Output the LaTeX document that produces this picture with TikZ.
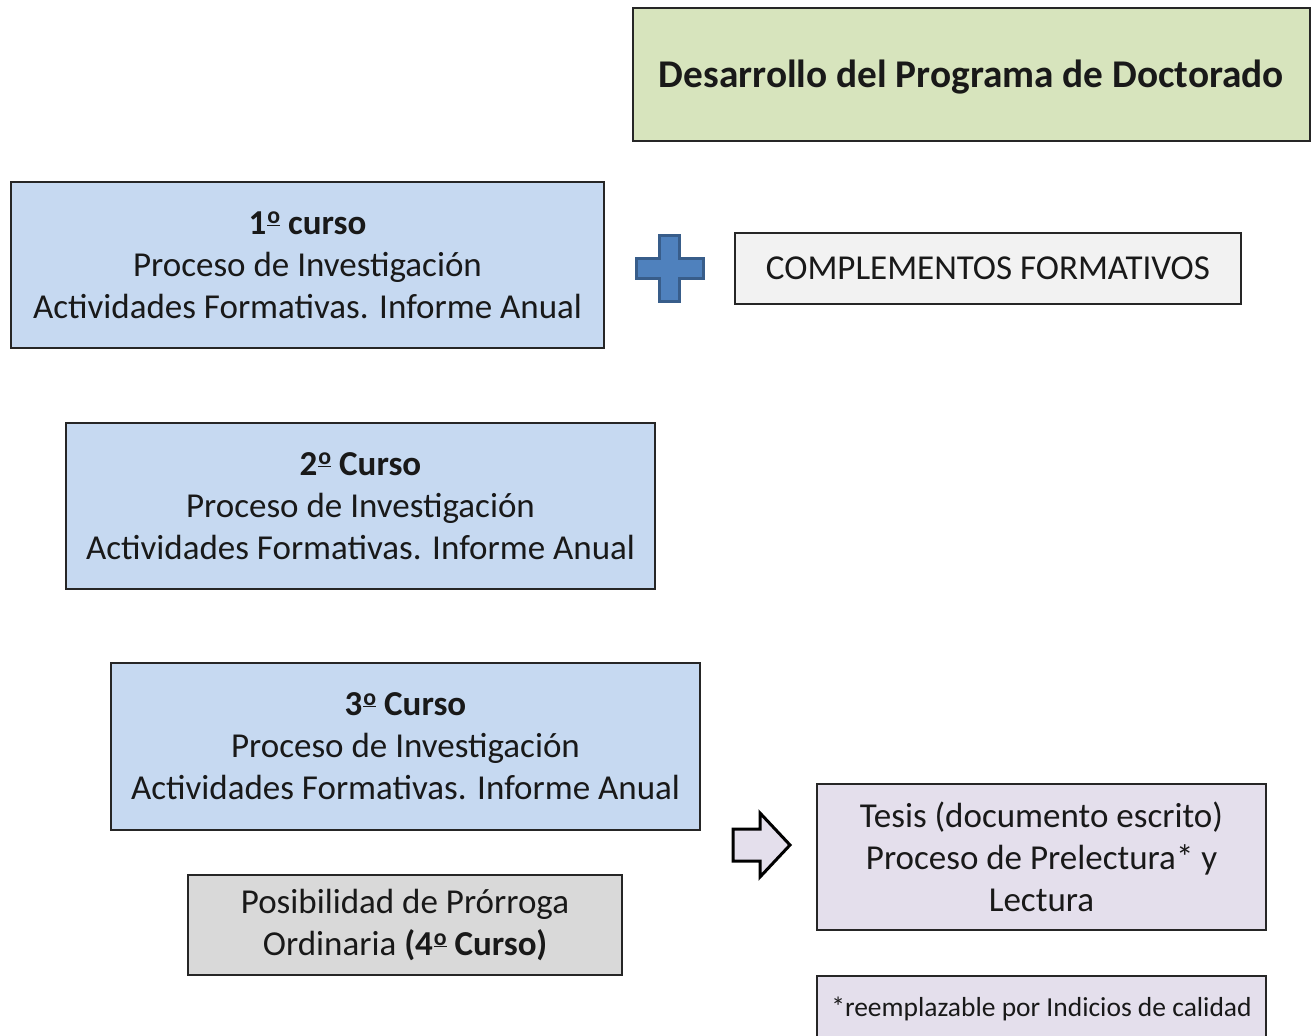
\documentclass[tikz,border=0pt]{standalone}
\usepackage{fontspec}
\setmainfont{Carlito}
\definecolor{titlegreen}{HTML}{D7E4BD}
\definecolor{boxblue}{HTML}{C6D9F1}
\definecolor{boxgray}{HTML}{F2F2F2}
\definecolor{boxgrey}{HTML}{D9D9D9}
\definecolor{boxlav}{HTML}{E4DFEC}
\definecolor{plusfill}{HTML}{4F81BD}
\definecolor{plusedge}{HTML}{385D8A}
\newcommand{\ordo}{\kern0.03em\raisebox{0.3em}{\scalebox{0.68}{\underline{o}}}}
\tikzset{
  box/.style={draw=black!85, line width=1.5pt, align=center, inner sep=0pt,
    font=\fontsize{35}{42}\selectfont, text=black!90},
}
\begin{document}
\begin{tikzpicture}[x=1pt,y=-1pt]
\useasboundingbox (0,0) rectangle (1312,1036);
% title
\node[box, fill=titlegreen, minimum width=677pt, minimum height=133pt] (title) at (971.5,74.5) {};
\node[font=\fontsize{39.3}{46}\selectfont\bfseries, text=black!90, inner sep=0pt] (titletxt) at (971.5,77)
  {Desarrollo del Programa de Doctorado};
% courses
\node[box, fill=boxblue, minimum width=593pt, minimum height=166pt] (c1) at (307.5,265)
  {\textbf{1\ordo\ curso}\\Proceso de Investigación\\Actividades Formativas. Informe Anual};
\node[box, fill=boxblue, minimum width=589pt, minimum height=166pt] (c2) at (360.5,506)
  {\textbf{2\ordo\ Curso}\\Proceso de Investigación\\Actividades Formativas. Informe Anual};
\node[box, fill=boxblue, minimum width=589pt, minimum height=167pt] (c3) at (405.5,746.5)
  {\textbf{3\ordo\ Curso}\\Proceso de Investigación\\Actividades Formativas. Informe Anual};
\node[box, fill=boxgrey, minimum width=434pt, minimum height=100pt] (pro) at (405,925)
  {Posibilidad de Prórroga\\Ordinaria \textbf{(4\ordo\ Curso)}};
% complementos
\node[box, fill=boxgray, minimum width=506pt, minimum height=71pt] (comp) at (988,268.5)
  {COMPLEMENTOS FORMATIVOS};
% tesis
\node[box, fill=boxlav, minimum width=449pt, minimum height=146pt] (tesis) at (1041.5,857)
  {Tesis (documento escrito)\\Proceso de Prelectura* y\\Lectura};
\node[box, fill=boxlav, minimum width=449pt, minimum height=70pt, anchor=north] (nota) at (1041.5,975)
  {};
\node[font=\fontsize{27.5}{33}\selectfont, text=black!90, inner sep=0pt] (notatxt) at (1041.5,1009)
  {*reemplazable por Indicios de calidad};
% plus sign
\draw[fill=plusfill, draw=plusedge, line width=3pt, line join=miter]
  (659.5,235) -- (679.5,235) -- (679.5,258) -- (703,258) -- (703,278) -- (679.5,278)
  -- (679.5,301) -- (659.5,301) -- (659.5,278) -- (636,278) -- (636,258) -- (659.5,258) -- cycle;
% arrow
\draw[fill=boxlav, draw=black, line width=3pt, line join=miter]
  (733,829) -- (760,829) -- (760,813) -- (790,845) -- (760,877) -- (760,861) -- (733,861) -- cycle;
\end{tikzpicture}
\end{document}
